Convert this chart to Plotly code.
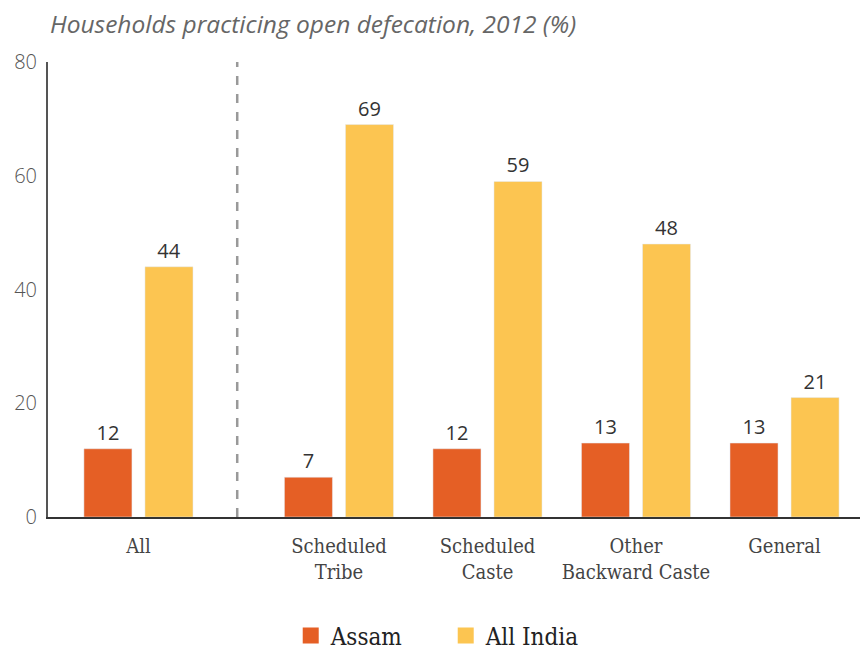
import plotly.graph_objects as go

categories = ["All", "Scheduled<br>Tribe", "Scheduled<br>Caste", "Other<br>Backward Caste", "General"]
assam = [12, 7, 12, 13, 13]
all_india = [44, 69, 59, 48, 21]
y_ticks = [0, 20, 40, 60, 80]
title_text = "Households practicing open defecation, 2012 (%)"

# layout: extra gap after the first ("All") group
GAP = 1.35
xpos = [0] + [GAP + i for i in range(len(categories) - 1)]

ORANGE = "#E55F25"
YELLOW = "#FCC551"

fig = go.Figure()
for name, vals, col in [("Assam", assam, ORANGE), ("All India", all_india, YELLOW)]:
    fig.add_trace(go.Bar(
        x=xpos, y=vals, name=name, marker_color=col, showlegend=False,
        text=vals, textposition="outside", cliponaxis=False,
        textfont=dict(family="Open Sans", size=20, color="#333333"),
    ))
# legend entries with square markers
for name, col in [("Assam", ORANGE), ("All India", YELLOW)]:
    fig.add_trace(go.Scatter(
        x=[None], y=[None], mode="markers", name=name,
        marker=dict(symbol="square", size=20, color=col),
    ))

fig.add_shape(type="line", xref="x", yref="paper",
              x0=(xpos[0] + xpos[1]) / 2 - 0.01, x1=(xpos[0] + xpos[1]) / 2 - 0.01,
              y0=0, y1=1, line=dict(color="#999999", width=2.5, dash="dash"))

fig.add_annotation(text=title_text, xref="paper", yref="paper",
                   x=0, xanchor="left", y=1 + 39 / 455, yanchor="middle",
                   showarrow=False, width=560, align="left",
                   font=dict(family="Open Sans", size=24.5, color="#666666", style="italic"))

fig.update_layout(
    width=860, height=650,
    margin=dict(l=40, r=0, t=54, b=141, autoexpand=False),
    paper_bgcolor="white", plot_bgcolor="white",
    barmode="group", bargap=0.178, bargroupgap=0.213,
    showlegend=True,
    legend=dict(orientation="h", x=0.296, xanchor="left", y=-0.2615, yanchor="middle",
                font=dict(family="DejaVu Serif Condensed", size=24, color="#222222"),
                entrywidth=110, traceorder="normal"),
    xaxis=dict(
        range=[-0.609, 4.912], tickvals=xpos, ticktext=categories,
        showgrid=False, zeroline=False, showline=True, linecolor="#333333", linewidth=1.5,
        ticks="", ticklabelstandoff=10,
        tickfont=dict(family="DejaVu Serif Condensed", size=20, color="#444444"),
    ),
    yaxis=dict(
        range=[0, 80], tickvals=y_ticks, showgrid=False, zeroline=False,
        showline=True, linecolor="#555555", linewidth=2, ticks="",
        ticklabelstandoff=5,
        tickfont=dict(family="Open Sans", size=20, color="#555555", weight=300),
    ),
)

fig.write_html("out.html")
